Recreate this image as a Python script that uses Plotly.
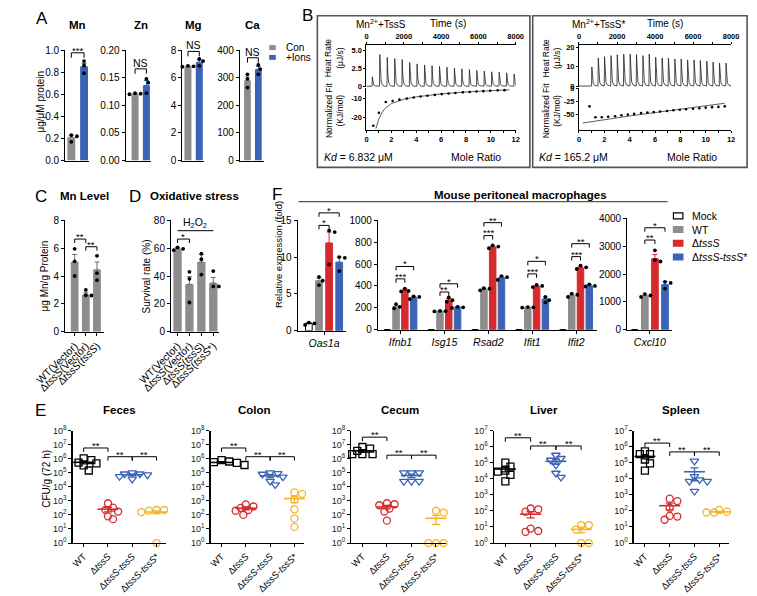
import numpy as np
import plotly.graph_objects as go

W, H = 757, 596
FONT = "Liberation Sans, Arial, Helvetica, sans-serif"

GRAY = "#8d8d8d"
BLUE = "#3b63b6"
RED = "#d52a2e"
YELLOW = "#f4b423"

# ======================= DATA =======================
# --- A: ion content ---
A_METALS = ["Mn", "Zn", "Mg", "Ca"]
A_CON_MEAN = [0.21, 0.121, 6.82, 290]
A_CON_SEM = [0.02, 0.001, 0.03, 13]
A_ION_MEAN = [0.85, 0.136, 7.12, 330]
A_ION_SEM = [0.03, 0.009, 0.18, 11]
A_CON_PTS = [[0.23, 0.22, 0.17], [0.122, 0.121, 0.120], [6.86, 6.82, 6.79], [312, 296, 264]]
A_ION_PTS = [[0.90, 0.86, 0.79], [0.148, 0.141, 0.122], [7.35, 7.2, 6.85], [346, 331, 312]]
A_YMAX = [1.0, 0.20, 8, 400]
A_DTICK = [0.2, 0.05, 2, 100]
A_FMT = [".1f", ".2f", "d", "d"]
A_SIG = ["***", "NS", "NS", "NS"]
A_SIG_Y = [0.975, 0.166, 7.9, 372]

# --- B: ITC ---
B1_TIME = [300, 700, 1100, 1500, 1900, 2300, 2700, 3100, 3500, 3900,
           4300, 4700, 5100, 5500, 5900, 6300, 6700, 7100, 7500, 7900]
B1_HEAT = [1.3, 4.4, 4.0, 3.85, 3.7, 3.3, 3.1, 2.95, 2.85, 2.75,
           2.65, 2.5, 2.4, 2.3, 2.2, 2.1, 2.0, 1.95, 1.85, 1.7]
B1_MR = [0.55, 1.0, 1.55, 2.1, 2.65, 3.25, 3.8, 4.35, 4.9, 5.5,
         6.05, 6.6, 7.15, 7.75, 8.3, 8.85, 9.4, 9.95, 10.55, 11.1]
B1_NF = [-24, -17.5, -12, -11.5, -10.8, -10.2, -9.7, -9.2, -8.8, -8.4,
         -8.0, -7.7, -7.4, -7.1, -6.9, -6.7, -6.5, -6.3, -6.1, -6.0]
B1_FIT_MR = [0.75, 1.0, 1.25, 1.5, 2.0, 2.5, 3.0, 4.0, 5.0, 6.0, 8.0, 10.0, 11.5]
B1_FIT = [-25.5, -20.5, -17.3, -15.2, -12.8, -11.5, -10.6, -9.4, -8.6, -7.9, -6.9, -6.2, -5.8]
B1_KD = "6.832"

B2_TIME = [660, 1000, 1330, 1670, 2000, 2340, 2680, 3010, 3350, 3680, 4020,
           4360, 4690, 5030, 5360, 5700, 6040, 6370, 6710, 7040, 7380, 7720]
B2_HEAT = [9.8, 14.4, 15.1, 15.6, 16.1, 16.4, 16.4, 16.1, 15.6, 16.4, 14.8,
           14.4, 14.4, 13.9, 13.9, 13.4, 13.4, 13.1, 12.8, 12.3, 11.8, 11.8]
B2_MR = [0.83, 1.3, 1.8, 2.3, 2.85, 3.35, 3.85, 4.35, 4.9, 5.4, 5.9,
         6.4, 6.95, 7.45, 7.95, 8.45, 9.0, 9.5, 10.0, 10.5, 11.0, 11.5]
B2_NF = [-34, -55, -55, -54, -53, -51, -50, -48.5, -47, -46, -45,
         -44, -43, -41.5, -40.5, -39.5, -38.5, -37.5, -36.5, -35.5, -35, -34]
B2_FIT_MR = [0.3, 2, 4, 6, 8, 10, 11.5]
B2_FIT = [-66, -59.5, -52.5, -46, -39.5, -33, -28]
B2_KD = "165.2"

# --- C: Mn level ---
C_LABELS = ["WT(Vector)", "Δ<i>tssS</i>(Vector)", "Δ<i>tssS</i>(<i>tssS</i>)"]
C_MEAN = [5.0, 2.65, 4.45]
C_SEM = [0.55, 0.15, 0.55]
C_PTS = [[5.95, 5.05, 4.0], [3.0, 2.62, 2.6], [5.45, 4.2, 3.7]]
C_SIG = [(0, 1, 6.65, "**"), (1, 2, 6.1, "**")]

# --- D: oxidative stress ---
D_LABELS = ["WT(Vector)", "Δ<i>tssS</i>(Vector)", "Δ<i>tssS</i>(<i>tssS</i>)", "Δ<i>tssS</i>(<i>tssS</i>*)"]
D_MEAN = [59.5, 34, 50, 35]
D_SEM = [1, 5.5, 5.5, 4]
D_PTS = [[60.5, 59.5, 58.5], [43, 38, 21], [56, 52, 41], [43.5, 32.5, 32.5]]
D_SIG = [(0, 1, 66.5, "*")]
D_H2O2_Y = 72.5

# --- F: macrophage expression ---
F_GROUPS = ["Mock", "WT", "Δ<i>tssS</i>", "Δ<i>tssS-tssS</i>*"]
F1_MEAN = [1.0, 6.8, 11.9, 9.3]
F1_SEM = [0.1, 0.35, 1.5, 0.7]
F1_PTS = [[0.8, 1.0, 1.1], [7.3, 6.8, 6.2], [13.6, 13.4, 9.0], [10.0, 9.9, 8.1]]
F1_SIG = [(1, 2, 14.3, "*"), (1, 3, 16.0, "*")]

F2_GENES = ["Ifnb1", "Isg15", "Rsad2", "Ifit1", "Ifit2"]
F2_MOCK = [1, 1, 1, 1, 1]
F2_WT = [210, 170, 370, 205, 315]
F2_WT_SEM = [15, 5, 12, 4, 10]
F2_DT = [360, 270, 755, 395, 565]
F2_DT_SEM = [15, 15, 12, 10, 15]
F2_CP = [295, 205, 475, 280, 400]
F2_CP_SEM = [12, 8, 15, 20, 12]
F2_WT_PTS = [[235, 210, 195], [172, 170, 168], [380, 375, 360], [207, 205, 203], [330, 320, 300]]
F2_DT_PTS = [[375, 355, 350], [295, 270, 255], [770, 760, 745], [410, 400, 390], [585, 570, 555]]
F2_CP_PTS = [[305, 300, 280], [210, 205, 200], [490, 480, 455], [300, 270, 250], [415, 400, 395]]
F2_SIG_LOW = [(465, "***"), (345, "**"), (860, "***"), (510, "***"), (668, "***")]
F2_SIG_HIGH = [(578, "*"), (420, "*"), (978, "**"), (625, "*"), (786, "**")]

F3_MEAN = [1, 1220, 2550, 1620]
F3_SEM = [1, 40, 150, 100]
F3_PTS = [[1, 1, 1], [1280, 1230, 1180], [2850, 2500, 2450], [1720, 1680, 1480]]
F3_SIG = [(1, 2, 3220, "**"), (1, 3, 3660, "*")]

# --- E: bacterial burden, log10 CFU/g ---
E_TISSUES = ["Feces", "Colon", "Cecum", "Liver", "Spleen"]
E_STRAINS = ["WT", "Δ<i>tssS</i>", "Δ<i>tssS</i>-<i>tssS</i>", "Δ<i>tssS</i>-<i>tssS</i>*"]
E_YMAX = [8, 8, 8, 7, 7]
E_WT = [[5.72, 6.02, 5.9, 5.53, 5.16, 5.67], [5.9, 5.8, 5.7, 5.6, 5.75, 5.55],
        [6.72, 6.83, 6.32, 6.32, 6.32, 6.55], [5.0, 4.76, 4.45, 4.51, 4.24, 3.84],
        [5.71, 5.53, 5.53, 5.2, 4.96, 4.51]]
E_DT = [[2.52, 2.83, 2.36, 2.24, 1.7, 1.9], [2.75, 2.6, 2.5, 2.35, 2.3, 2.0],
        [2.83, 2.69, 2.76, 2.45, 2.24, 1.59], [2.15, 1.95, 2.1, 0.7, 0.9, 0.75],
        [2.61, 2.76, 2.2, 1.45, 1.69, 1.65]]
E_CP = [[5.0, 4.92, 4.85, 4.73, 4.55, 4.92], [5.0, 4.95, 4.9, 4.7, 4.4, 4.15],
        [5.0, 5.0, 5.0, 4.39, 4.39, 4.39], [5.16, 5.27, 5.47, 4.86, 4.35, 4.1],
        [5.1, 4.14, 3.94, 3.84, 3.84, 3.22]]
E_CS = [[2.35, 2.3, 2.2, 2.2, 2.35, 0], [3.6, 3.5, 3.1, 2.4, 1.75, 1.15],
        [2.17, 2.29, 0, 0, 0, 0], [1.12, 1.12, 0.84, 0, 0],
        [1.9, 1.9, 1.95, 1.85, 2.06]]
E_SIG1 = [6.76, 6.76, 7.53, 6.55, 6.22]
E_SIG2 = [6.14, 6.14, 6.25, 6.04, 5.67]

# ======================= HELPERS =======================
fig = go.Figure()
LAYOUT = {}
SP = {}
ANN = []
SHAPES = []


def new_sp(name, xpx, ypx, xr, yr, ylog=False, xkw=None, ykw=None):
    i = len(SP) + 1
    sfx = "" if i == 1 else str(i)
    base = dict(showgrid=False, zeroline=False, showline=True, linecolor="black", linewidth=1,
                ticks="outside", ticklen=3, tickwidth=1, tickcolor="black",
                tickfont=dict(size=10, color="black", family=FONT), fixedrange=True)
    xa = dict(base, domain=[xpx[0] / W, xpx[1] / W], range=list(xr), anchor="y" + sfx)
    ya = dict(base, domain=[1 - ypx[1] / H, 1 - ypx[0] / H], range=list(yr), anchor="x" + sfx)
    if ylog:
        ya["type"] = "log"
    if xkw:
        xa.update(xkw)
    if ykw:
        ya.update(ykw)
    LAYOUT["xaxis" + sfx] = xa
    LAYOUT["yaxis" + sfx] = ya
    SP[name] = dict(x="x" + sfx, y="y" + sfx, xpx=xpx, ypx=ypx, xr=xr, yr=yr, ylog=ylog, name=name)
    return SP[name]


def to_px(name, xv, yv):
    s = SP[name]
    fx = (xv - s["xr"][0]) / (s["xr"][1] - s["xr"][0])
    X = s["xpx"][0] + fx * (s["xpx"][1] - s["xpx"][0])
    yy = np.log10(yv) if s["ylog"] else yv
    fy = (yy - s["yr"][0]) / (s["yr"][1] - s["yr"][0])
    Y = s["ypx"][1] - fy * (s["ypx"][1] - s["ypx"][0])
    return X, Y


def text(x, y, s, size=10, xa="center", ya="middle", angle=0, color="black", bold=False):
    if bold:
        s = "<b>" + s + "</b>"
    ANN.append(dict(x=x / W, y=1 - y / H, xref="paper", yref="paper", text=s, showarrow=False,
                    xanchor=xa, yanchor=ya, textangle=angle, borderpad=0,
                    font=dict(size=size, color=color, family=FONT)))


def seg(x0, y0, x1, y1, color="black", w=1):
    SHAPES.append(dict(type="line", xref="paper", yref="paper", x0=x0 / W, y0=1 - y0 / H,
                       x1=x1 / W, y1=1 - y1 / H, line=dict(color=color, width=w)))


def rect(x0, y0, x1, y1, line="black", fill="rgba(0,0,0,0)", w=1):
    SHAPES.append(dict(type="rect", xref="paper", yref="paper", x0=x0 / W, y0=1 - y1 / H,
                       x1=x1 / W, y1=1 - y0 / H, line=dict(color=line, width=w), fillcolor=fill))


def bracket(name, xa_, xb_, yv, label, leg=4, size=9.5, lw=1, star=True):
    X0, Y = to_px(name, xa_, yv)
    X1, _ = to_px(name, xb_, yv)
    seg(X0, Y, X1, Y, w=lw)
    seg(X0, Y, X0, Y + leg, w=lw)
    seg(X1, Y, X1, Y + leg, w=lw)
    off = 0.42 * size if star else 1
    text((X0 + X1) / 2, Y + off, label, size=size, ya="bottom")


def swarm(ys_px, dmin):
    order = sorted(range(len(ys_px)), key=lambda i: ys_px[i])
    placed, res = [], [0.0] * len(ys_px)
    for i in order:
        y = ys_px[i]
        cand = 0.0
        for k in range(60):
            cand = 0.0 if k == 0 else ((k + 1) // 2) * dmin * 0.45 * (1 if k % 2 else -1)
            if all((cand - a) ** 2 + (y - b) ** 2 >= dmin ** 2 for a, b in placed):
                break
        placed.append((cand, y))
        res[i] = cand
    return res


def add_bars(sp, positions, means, sems, colors, width, pts, line_colors=None, err_colors=None,
             dot=3.8):
    unit = (sp["xpx"][1] - sp["xpx"][0]) / (sp["xr"][1] - sp["xr"][0])
    for k, p in enumerate(positions):
        lc = line_colors[k] if line_colors else colors[k]
        ec = err_colors[k] if err_colors else lc
        fig.add_trace(go.Bar(x=[p], y=[means[k]], width=width, xaxis=sp["x"], yaxis=sp["y"],
                             marker=dict(color=colors[k], line=dict(color=lc, width=1 if line_colors else 0)),
                             error_y=dict(type="data", array=[sems[k]], arrayminus=[0], symmetric=False,
                                          color=ec, thickness=1, width=2.5),
                             showlegend=False, hoverinfo="skip"))
        ys = [to_px(sp["name"], p, v)[1] for v in pts[k]]
        offs = swarm(ys, dot + 0.6)
        fig.add_trace(go.Scatter(x=[p + o / unit for o in offs], y=pts[k], mode="markers",
                                 xaxis=sp["x"], yaxis=sp["y"], cliponaxis=False,
                                 marker=dict(size=dot, color="black"), showlegend=False, hoverinfo="skip"))


# ======================= PANEL A =======================
A_PX = [(33, 58, 39.5, 53), (97, 124, 107, 119), (157, 180, 163, 175), (218, 243, 226, 237.5)]
for i, m in enumerate(A_METALS):
    ax0, ax1, p0, p1 = A_PX[i]
    unit = p1 - p0
    sp = new_sp("A" + m, (ax0, ax1), (44, 157), ((ax0 - p0) / unit, (ax1 - p0) / unit), (0, A_YMAX[i]),
                xkw=dict(showticklabels=False, ticks=""),
                ykw=dict(dtick=A_DTICK[i], tickformat=A_FMT[i], tick0=0))
    add_bars(sp, [0, 1], [A_CON_MEAN[i], A_ION_MEAN[i]], [A_CON_SEM[i], A_ION_SEM[i]],
             [GRAY, BLUE], 0.62, [A_CON_PTS[i], A_ION_PTS[i]])
    bracket("A" + m, 0, 1, A_SIG_Y[i], A_SIG[i], leg=5, size=10.5 if A_SIG[i] == "NS" else 9.5,
            star=A_SIG[i] != "NS")
    text((p0 + p1) / 2, 18, m, size=11.5, bold=True)
text(7, 97, "μg/μM protein", size=10, angle=-90)
rect(249, 39, 256, 44, line=GRAY, fill=GRAY, w=0)
rect(249, 49, 256, 54, line=BLUE, fill=BLUE, w=0)
text(266, 41.5, "Con", size=10, xa="left")
text(266, 51.5, "+Ions", size=10, xa="left")

# ======================= PANEL B =======================
def spikes(times, heights):
    xs, ys = [0], [0]
    for t, h in zip(times, heights):
        xs += [t, t + 15, t + 45, t + 90, t + 170, t + 260]
        ys += [0, h, 0.42 * h, 0.13 * h, 0.03 * h, 0]
    xs.append(8000)
    ys.append(0)
    return xs, ys


ITC_FONT = dict(size=7.5, color="black", family=FONT)
for bi, (times, heat, mr, nf, fmr, fit, kd, x0px, x1px, hr, fr, htick, ftick, title, box) in enumerate([
    (B1_TIME, B1_HEAT, B1_MR, B1_NF, B1_FIT_MR, B1_FIT, B1_KD, 352, 510, (-0.14, 5.7), (-26.3, -5),
     [0, 2.5, 5.0], [-20, -10], "Mn<sup>2+</sup>+TssS", (300, 525)),
    (B2_TIME, B2_HEAT, B2_MR, B2_NF, B2_FIT_MR, B2_FIT, B2_KD, 577, 738, (-0.6, 21), (-80, 1),
     [0, 10, 20], [-50, -25, 0], "Mn<sup>2+</sup>+TssS*", (528, 755)),
]):
    bold = lambda v: ["<b>%s</b>" % s for s in v]
    tl = ["0", "2.5", "5.0"] if bi == 0 else ["0", "10", "20"]
    spt = new_sp("B%dt" % bi, (x0px, x1px), (39, 82), (0, 8000), hr,
                 xkw=dict(side="top", tickvals=[0, 2000, 4000, 6000, 8000],
                          ticktext=bold(["0", "2000", "4000", "6000", "8000"]), tickfont=ITC_FONT,
                          ticklen=2, minor=dict(tickvals=[1000, 3000, 5000, 7000], ticks="outside", ticklen=2)),
                 ykw=dict(tickvals=htick, ticktext=bold(tl), tickfont=ITC_FONT, ticklen=2))
    xs, ys = spikes(times, heat)
    fig.add_trace(go.Scatter(x=xs, y=ys, mode="lines", line=dict(color="#222", width=0.8),
                             xaxis=spt["x"], yaxis=spt["y"], showlegend=False, hoverinfo="skip"))
    spb = new_sp("B%db" % bi, (x0px, x1px), (83, 126), (0, 12), fr,
                 xkw=dict(tickvals=list(range(0, 13, 2)), ticktext=bold([str(v) for v in range(0, 13, 2)]),
                          tickfont=ITC_FONT, ticklen=2,
                          minor=dict(tickvals=list(range(1, 12, 2)), ticks="outside", ticklen=2)),
                 ykw=dict(tickvals=ftick, ticktext=bold([str(v) for v in ftick]), tickfont=ITC_FONT, ticklen=2))
    fig.add_trace(go.Scatter(x=fmr, y=fit, mode="lines", line=dict(color="#333", width=0.8),
                             xaxis=spb["x"], yaxis=spb["y"], showlegend=False, hoverinfo="skip"))
    fig.add_trace(go.Scatter(x=mr, y=nf, mode="markers", marker=dict(size=2.6, color="black"),
                             xaxis=spb["x"], yaxis=spb["y"], showlegend=False, hoverinfo="skip"))
    rect(box[0], 9, box[1], 164, line="#555", w=1.6)
    lx = x0px - 34 if bi == 0 else x0px - 29
    text(lx, 52, "Heat Rate<br>(μJ/s)", size=8.5, angle=-90)
    text(lx, 106, "Normalized Fit<br>(KJ/mol)", size=8.5, angle=-90)
    tx = x0px + (15 if bi == 0 else 21)
    text(tx, 17, title, size=10, xa="center")
    text(x0px + (86 if bi == 0 else 91), 17, "Time (s)", size=10)
    text(box[0] + 6, 153, "<i>Kd</i> = %s μM" % kd, size=10.5, xa="left")
    text(x0px + (116 if bi == 0 else 120), 153, "Mole Ratio", size=10.5)

# ======================= PANEL C =======================
sp = new_sp("C", (33, 74), (218, 332), (-0.85, 2.62), (0, 8),
            xkw=dict(tickvals=[0, 1, 2], ticktext=C_LABELS, tickangle=-45,
                     tickfont=dict(size=10.5, color="black", family=FONT)),
            ykw=dict(dtick=2, tick0=0))
add_bars(sp, [0, 1, 2], C_MEAN, C_SEM, [GRAY] * 3, 0.7, C_PTS, err_colors=["#6b6b6b"] * 3)
for a, b, yv, lab in C_SIG:
    bracket("C", a, b, yv, lab, leg=4)
text(11, 275, "μg Mn/g Protein", size=10, angle=-90)
text(53, 193, "Mn Level", size=11.5, bold=True)

# ======================= PANEL D =======================
sp = new_sp("D", (145, 196), (218, 332), (-0.55, 3.49), (0, 80),
            xkw=dict(tickvals=[0, 1, 2, 3], ticktext=D_LABELS, tickangle=-45,
                     tickfont=dict(size=10.5, color="black", family=FONT)),
            ykw=dict(dtick=20, tick0=0))
add_bars(sp, [0, 1, 2, 3], D_MEAN, D_SEM, [GRAY] * 4, 0.7, D_PTS, err_colors=["#6b6b6b"] * 4)
for a, b, yv, lab in D_SIG:
    bracket("D", a, b, yv, lab, leg=4)
Xa, Yh = to_px("D", 0, D_H2O2_Y)
Xb, _ = to_px("D", 3, D_H2O2_Y)
seg(Xa, Yh, Xb, Yh)
text((Xa + Xb) / 2, Yh - 7.5, "H<sub>2</sub>O<sub>2</sub>", size=10.5)
text(119, 275, "Survival rate (%)", size=10, angle=-90)
text(170, 193, "Oxidative stress", size=11.5, bold=True)

# ======================= PANEL F =======================
F_COL = ["white", GRAY, RED, BLUE]
F_LINE = ["black", GRAY, RED, BLUE]
sp = new_sp("F1", (279, 330), (218, 331), (-1.12, 3.64), (0, 15),
            xkw=dict(tickvals=[1.5], ticktext=["<i>Oas1a</i>"], tickfont=dict(size=10.5, color="black", family=FONT)),
            ykw=dict(dtick=5, tick0=0))
add_bars(sp, [0, 1, 2, 3], F1_MEAN, F1_SEM, F_COL, 0.66, F1_PTS, line_colors=F_LINE)
for a, b, yv, lab in F1_SIG:
    bracket("F1", a, b, yv, lab, leg=4)

sp = new_sp("F2", (364, 596), (218, 330), (-2.58, 22.37), (0, 1000),
            xkw=dict(tickvals=[0, 5, 10, 15, 20], ticktext=["<i>%s</i>" % g for g in F2_GENES],
                     tickfont=dict(size=10.5, color="black", family=FONT)),
            ykw=dict(dtick=200, tick0=0))
for g in range(len(F2_GENES)):
    c = g * 5
    pos = [c - 1.5, c - 0.5, c + 0.5, c + 1.5]
    add_bars(sp, pos, [F2_MOCK[g], F2_WT[g], F2_DT[g], F2_CP[g]],
             [0, F2_WT_SEM[g], F2_DT_SEM[g], F2_CP_SEM[g]], F_COL, 0.74,
             [[], F2_WT_PTS[g], F2_DT_PTS[g], F2_CP_PTS[g]], line_colors=F_LINE)
    bracket("F2", pos[1], pos[2], F2_SIG_LOW[g][0], F2_SIG_LOW[g][1], leg=4)
    bracket("F2", pos[1], pos[3], F2_SIG_HIGH[g][0], F2_SIG_HIGH[g][1], leg=4)

sp = new_sp("F3", (628, 676), (216, 330), (-0.75, 3.74), (0, 4000),
            xkw=dict(tickvals=[1.5], ticktext=["<i>Cxcl10</i>"], tickfont=dict(size=10.5, color="black", family=FONT)),
            ykw=dict(dtick=1000, tick0=0))
add_bars(sp, [0, 1, 2, 3], F3_MEAN, F3_SEM, F_COL, 0.66, [[]] + F3_PTS[1:], line_colors=F_LINE)
for a, b, yv, lab in F3_SIG:
    bracket("F3", a, b, yv, lab, leg=4)

text(259, 253, "Relative expression (fold)", size=9.5, angle=-90)
text(515, 192, "Mouse peritoneal macrophages", size=11.5, bold=True)
seg(280, 199, 671, 199, color="#555", w=1.2)
for k, lab in enumerate(F_GROUPS):
    yy = 213.5 + k * 14
    rect(677, yy - 3, 687, yy + 3, line=F_LINE[k], fill=F_COL[k], w=1.2)
    text(696, yy, lab, size=10.5, xa="left")

# ======================= PANEL E =======================
E_PX = [(41, 140), (187, 286), (336, 436), (487, 590), (635, 736)]
E_TITLE_X = [90, 233, 388, 540, 685]
E_COLORS = ["black", RED, BLUE, YELLOW]
E_SYMBOLS = ["square-open", "circle-open", "triangle-down-open", "circle-open"]
for t, tissue in enumerate(E_TISSUES):
    ymax = E_YMAX[t]
    sp = new_sp("E" + tissue, E_PX[t], (433, 548), (-0.45, 3.40), (0, ymax), ylog=True,
                xkw=dict(tickvals=[0, 1, 2, 3], ticktext=E_STRAINS, tickangle=-45, linewidth=1.3,
                         tickfont=dict(size=9.5, color="black", family=FONT)),
                ykw=dict(tickvals=[10 ** k for k in range(ymax + 1)], linewidth=1.3,
                         ticktext=["10<sup>%d</sup>" % k for k in range(ymax + 1)],
                         tickfont=dict(size=9, color="#222", family=FONT)))
    unit = (E_PX[t][1] - E_PX[t][0]) / 3.85
    groups = [E_WT[t], E_DT[t], E_CP[t], E_CS[t]]
    for g, vals in enumerate(groups):
        lin = [10 ** v for v in vals]
        ys = [to_px("E" + tissue, g, v)[1] for v in lin]
        offs = swarm(ys, 6.0)
        fig.add_trace(go.Scatter(x=[g + o / unit for o in offs], y=lin, mode="markers",
                                 xaxis=sp["x"], yaxis=sp["y"], cliponaxis=False,
                                 marker=dict(symbol=E_SYMBOLS[g], size=7 if g != 2 else 7.5,
                                             color=E_COLORS[g], line=dict(width=1.3, color=E_COLORS[g])),
                                 showlegend=False, hoverinfo="skip"))
        mean = float(np.mean(lin))
        sem = float(np.std(lin, ddof=1) / np.sqrt(len(lin)))
        fig.add_trace(go.Scatter(x=[g], y=[mean], mode="markers", xaxis=sp["x"], yaxis=sp["y"],
                                 marker=dict(symbol="line-ew", size=15, color=E_COLORS[g],
                                             line=dict(width=1.6, color=E_COLORS[g])),
                                 error_y=dict(type="data", array=[sem], color=E_COLORS[g], thickness=1.3, width=4),
                                 cliponaxis=False, showlegend=False, hoverinfo="skip"))
    bracket("E" + tissue, 0, 1, 10 ** E_SIG1[t], "**", leg=4, size=9.5)
    bracket("E" + tissue, 1, 2, 10 ** E_SIG2[t], "**", leg=4, size=9.5)
    bracket("E" + tissue, 2, 3, 10 ** E_SIG2[t], "**", leg=4, size=9.5)
    text(E_TITLE_X[t], 412, tissue, size=11.5, bold=True)
text(13, 482, "CFU/g (72 h)", size=10, angle=-90)

# ======================= PANEL LETTERS =======================
for lab, x, y in [("A", 8, 12), ("B", 290, 9), ("C", 7, 194), ("D", 107, 194), ("F", 257, 192), ("E", 7, 413)]:
    text(x, y, lab, size=17)

fig.update_layout(width=W, height=H, autosize=False, margin=dict(l=0, r=0, t=0, b=0),
                  paper_bgcolor="white", plot_bgcolor="rgba(0,0,0,0)", barmode="overlay",
                  font=dict(family=FONT, color="black"), showlegend=False,
                  annotations=ANN, shapes=SHAPES, **LAYOUT)
fig.write_html("out.html", config={"displayModeBar": False, "staticPlot": True},
               post_script="document.body.style.margin='0';")
